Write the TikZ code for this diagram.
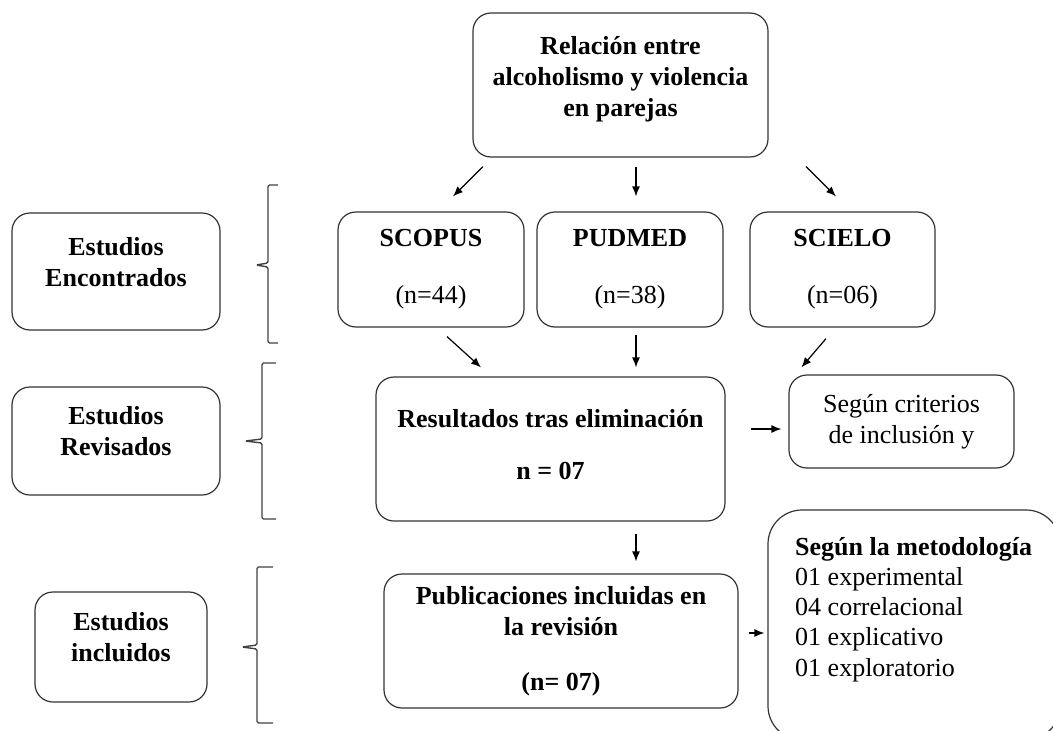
\documentclass[tikz,border=0pt]{standalone}
\usepackage{fontspec}
\setmainfont{Liberation Serif}
\usepackage{tikz}
\usetikzlibrary{arrows.meta,positioning}

\tikzset{
  box/.style = {draw=black!80, line width=1.2pt, rounded corners=18pt,
    align=center, inner sep=0pt, font=\fontsize{26}{31}\selectfont},
  stage/.style = {box, text depth=20pt},
  arr/.style = {-{Latex[length=10pt,width=8pt]}, line width=1.2pt},
  brace/.style = {draw=black!75, line width=1.4pt, rounded corners=1.5pt}
}

\begin{document}
\begin{tikzpicture}[x=1pt,y=-1pt]

\useasboundingbox (0,0) rectangle (1053,731);

% top
\node[box, text depth=17pt, minimum width=295pt, minimum height=144pt] (top) at (620.5,85)
  {\bfseries Relación entre\\\bfseries alcoholismo y violencia\\\bfseries en parejas};

% bases de datos
\node[box, minimum width=186pt, minimum height=115pt] (scopus) at (431,269.5)
  {\bfseries SCOPUS\\[26pt](n=44)};
\node[box, minimum width=186pt, minimum height=115pt] (pudmed) at (630,269.5)
  {\bfseries PUDMED\\[26pt](n=38)};
\node[box, minimum width=185pt, minimum height=115pt] (scielo) at (842.5,269.5)
  {\bfseries SCIELO\\[26pt](n=06)};

% etapas
\node[stage, minimum width=208pt, minimum height=117pt] (encontrados) at (116,271.5)
  {\bfseries Estudios\\\bfseries Encontrados};
\node[stage, minimum width=208pt, minimum height=108pt] (revisados) at (116,441)
  {\bfseries Estudios\\\bfseries Revisados};
\node[stage, minimum width=172pt, minimum height=110pt] (incluidos) at (121,647)
  {\bfseries Estudios\\\bfseries incluidos};

% resultados
\node[box, text depth=10pt, minimum width=349pt, minimum height=144pt] (resultados) at (550.5,449)
  {\bfseries Resultados tras eliminación\\[21pt]\bfseries n = 07};
\node[box, minimum width=225pt, minimum height=93pt] (criterios) at (901.5,421.5)
  {Según criterios\\de inclusión y};
\node[box, minimum width=354pt, minimum height=134pt] (publicaciones) at (561,641)
  {\bfseries Publicaciones incluidas en\\\bfseries la revisión\\[24pt]\bfseries (n= 07)};
\node[box, rounded corners=34pt, minimum width=292pt, minimum height=230pt] (metod) at (914,625) {};
\node[anchor=north west, align=left, inner sep=0pt,
  font=\fontsize{26}{30.2}\selectfont] (metodtxt) at (795,537)
  {\bfseries Según la metodología\\01 experimental\\04 correlacional\\01 explicativo\\01 exploratorio};

% flechas
\draw[arr] ([shift={(-137.5,9)}]top.south) -- ([shift={(22,-15)}]scopus.north);
\draw[arr] ([shift={(15.5,9)}]top.south) -- ([shift={(6,-15)}]pudmed.north);
\draw[arr] ([shift={(185.5,9)}]top.south) -- ([shift={(-6.5,-15)}]scielo.north);
\draw[arr] ([shift={(16,9)}]scopus.south) -- ([shift={(-69.5,-9)}]resultados.north);
\draw[arr] ([shift={(6,7)}]pudmed.south) -- ([shift={(85.5,-9)}]resultados.north);
\draw[arr] ([shift={(-16.5,11)}]scielo.south) -- ([shift={(13,-7)}]criterios.north west);
\draw[arr] ([shift={(25,-20)}]resultados.east) -- ([shift={(-7,7.5)}]criterios.west);
\draw[arr] ([shift={(85.5,12)}]resultados.south) -- ([shift={(75,-12)}]publicaciones.north);
\draw[arr] ([shift={(10,-8)}]publicaciones.east) -- ([shift={(-3,8)}]metod.west);

% llaves
\foreach \bx/\btop/\bmid/\bbot/\bin/\bout in {268/185/265/343/256/278, 262/363/441/519/245/276, 257/567/647/723/242/273}
  \draw[brace] (\bout,\btop) -- (\bx,\btop) -- (\bx,\bmid-2) -- (\bin,\bmid) -- (\bx,\bmid+2) -- (\bx,\bbot) -- (\bout,\bbot);

\end{tikzpicture}
\end{document}
